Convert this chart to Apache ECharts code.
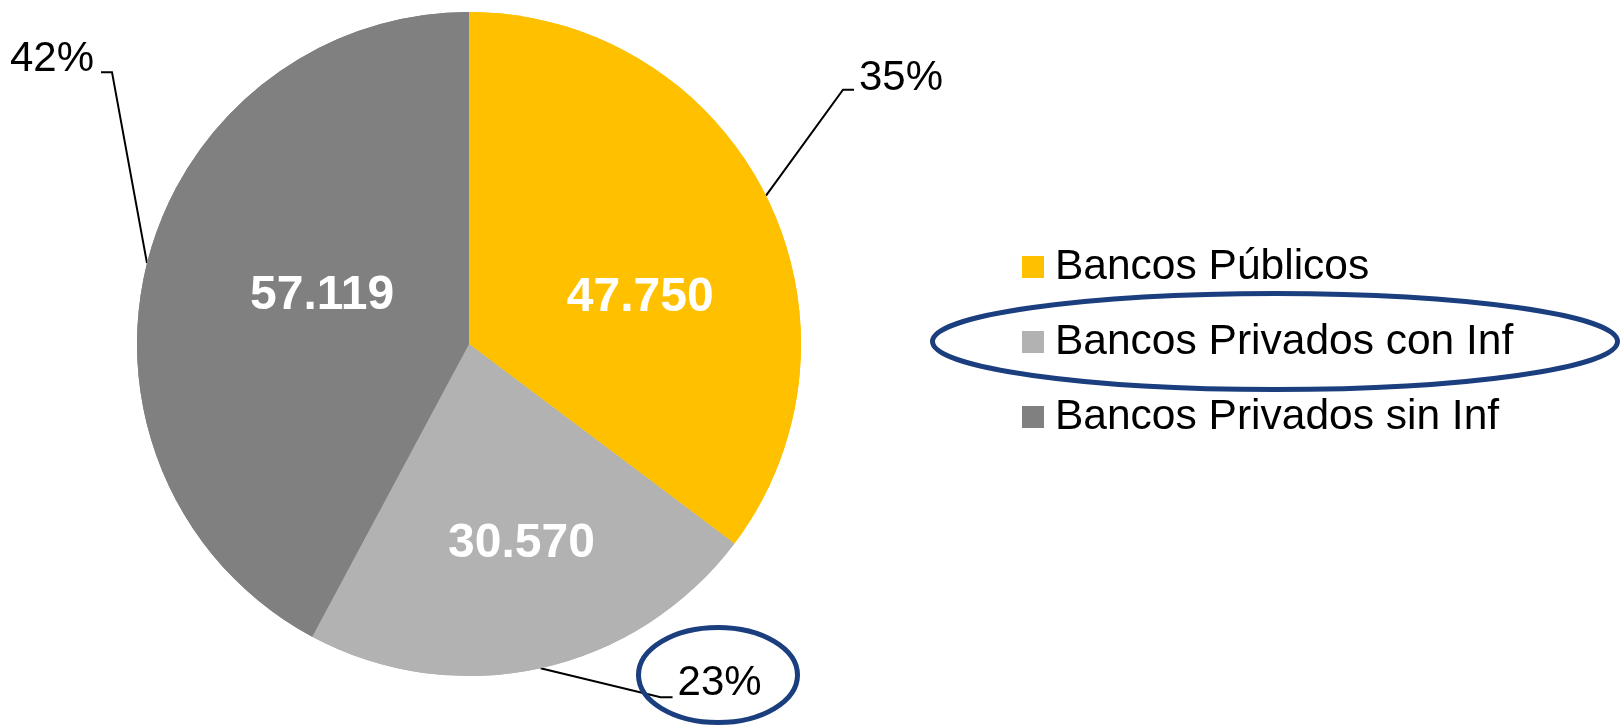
<!DOCTYPE html>
<html>
<head>
<meta charset="utf-8">
<title>Bancos</title>
<script src="https://cdn.jsdelivr.net/npm/echarts@6/dist/echarts.min.js"></script>
<style>
  html, body { margin: 0; padding: 0; background: #fff; }
  #chart { width: 1620px; height: 726px; }
</style>
</head>
<body>
<div id="chart"></div>
<script>
// datos del gráfico
const categorias = ["Bancos Públicos", "Bancos Privados con Inf", "Bancos Privados sin Inf"];
const valores = [47750, 30570, 57119];
const colores = ["#FFC000", "#B2B2B2", "#808080"];

// desplazamiento de las etiquetas interiores (px)
const despValor = [[20, 29], [16, 35], [17, -7]];
// guía de las etiquetas %: codo [dx, dy] desde el borde, tramo horizontal, ajuste del texto
const codoPct = [[77, -106], [120, 29], [-35, -191]];
const tramoPct = [11, 12, -11];
const textoPct = [[5, -11], [5, -14], [-7, -13]];

const fuente = "Liberation Sans, Arial, sans-serif";

function miles(v) {
  return String(v).replace(/\B(?=(\d{3})+(?!\d))/g, ".");
}

const datos = categorias.map(function (c, i) {
  return { name: c, value: valores[i], itemStyle: { color: colores[i] } };
});

const chart = echarts.init(document.getElementById("chart"));
chart.setOption({
  animation: false,
  legend: {
    data: categorias,
    orient: "vertical",
    left: 1022,
    top: 241,
    padding: 0,
    itemWidth: 22,
    itemHeight: 22,
    itemGap: 23,
    icon: "rect",
    textStyle: {
      fontFamily: fuente,
      fontSize: 42.5,
      lineHeight: 44,
      color: "#000",
      padding: [8, 0, 0, 6]
    }
  },
  series: [
    {
      // porcentajes fuera con línea guía
      type: "pie",
      center: [469, 344],
      radius: 332,
      startAngle: 90,
      data: datos,
      label: {
        show: true,
        position: "outside",
        fontFamily: fuente,
        fontSize: 42,
        color: "#000",
        formatter: function (p) {
          return Math.round(p.percent) + "%";
        }
      },
      labelLine: {
        show: true,
        length: 20,
        length2: 10,
        lineStyle: { color: "#000", width: 2 }
      },
      labelLayout: function (p) {
        const i = p.dataIndex;
        const s = p.labelLinePoints[0];
        const codo = [s[0] + codoPct[i][0], s[1] + codoPct[i][1]];
        const fin = [codo[0] + tramoPct[i], codo[1]];
        return {
          x: fin[0] + textoPct[i][0],
          y: fin[1] + textoPct[i][1],
          align: tramoPct[i] > 0 ? "left" : "right",
          verticalAlign: "middle",
          labelLinePoints: [s, codo, fin]
        };
      }
    },
    {
      // valores dentro
      type: "pie",
      center: [469, 344],
      radius: 332,
      startAngle: 90,
      data: datos,
      label: {
        show: true,
        position: "inside",
        fontFamily: fuente,
        fontSize: 48,
        fontWeight: "bold",
        color: "#fff",
        formatter: function (p) {
          return miles(p.value);
        }
      },
      labelLine: { show: false },
      labelLayout: function (p) {
        const o = despValor[p.dataIndex];
        const r = p.labelRect;
        return {
          x: r.x + r.width / 2 + o[0],
          y: r.y + r.height / 2 + o[1],
          align: "center",
          verticalAlign: "middle"
        };
      }
    }
  ],
  graphic: [
    {
      type: "ellipse",
      shape: { cx: 1275, cy: 341.5, rx: 342.5, ry: 48 },
      style: { fill: "none", stroke: "#1A3E7E", lineWidth: 5 },
      z: 100
    },
    {
      type: "ellipse",
      shape: { cx: 718, cy: 675, rx: 79.5, ry: 47.5 },
      style: { fill: "none", stroke: "#1A3E7E", lineWidth: 5 },
      z: 100
    }
  ]
});
</script>
</body>
</html>
